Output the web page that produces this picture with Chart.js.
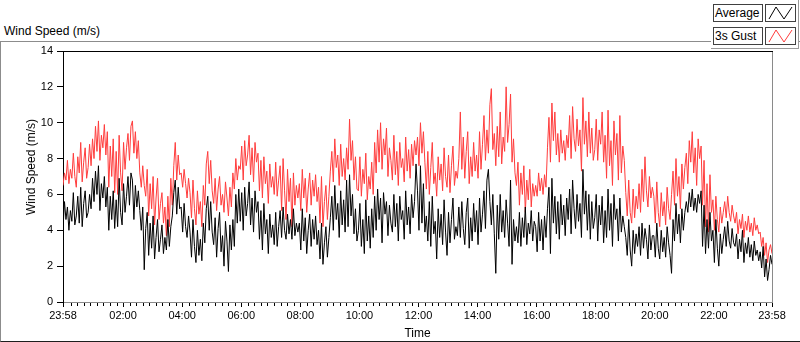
<!DOCTYPE html>
<html>
<head>
<meta charset="utf-8">
<script src="https://cdn.jsdelivr.net/npm/chart.js@4.4.1/dist/chart.umd.min.js"></script>
<style>
  html, body { margin: 0; padding: 0; background: #fff; }
  #wrap { position: relative; width: 800px; height: 342px; overflow: hidden; font-family: "Liberation Sans", Arial, sans-serif; color: #000; }
  #frame { position: absolute; left: 0; top: 41px; width: 799px; height: 299px; border-left: 1px solid #8c8c8c; border-top: 1px solid #8c8c8c; border-bottom: 1px solid #1e1e1e; }
  #chartTitle { position: absolute; left: 4px; top: 23px; font-size: 12px; line-height: 16px; }
  #yTitle { position: absolute; left: 31px; top: 167px; font-size: 12px; line-height: 14px; white-space: nowrap; transform: translate(-50%, -50%) rotate(-90deg); z-index: 2; }
  #legend { position: absolute; left: 711px; top: 0; width: 87px; height: 48px; background: #fff; border-right: 1px solid #9a9a9a; border-bottom: 1px solid #9a9a9a; z-index: 2; }
  .lbl { position: absolute; left: 2px; width: 47px; height: 16px; border: 1px solid #404040; font-size: 12px; line-height: 16px; padding-left: 1px; white-space: nowrap; overflow: hidden; }
  .ico { position: absolute; left: 54px; width: 29px; height: 16px; border: 1px solid #404040; }
  canvas { position: absolute; left: 0; top: 0; z-index: 1; }
</style>
</head>
<body>
<div id="wrap">
  <div id="frame"></div>
  <div id="chartTitle">Wind Speed (m/s)</div>
  <div id="yTitle">Wind Speed (m/s)</div>
  <div id="legend">
    <div class="lbl" style="top:4px">Average</div>
    <div class="ico" style="top:4px"><svg width="29" height="16"><polyline points="3,14 10,2 18,14 26,2" fill="none" stroke="#000" stroke-width="1"/></svg></div>
    <div class="lbl" style="top:27px">3s Gust</div>
    <div class="ico" style="top:27px"><svg width="29" height="16"><polyline points="3,14 10,2 18,14 26,2" fill="none" stroke="#ff3c3c" stroke-width="1"/></svg></div>
  </div>
  <canvas id="chart" width="800" height="342"></canvas>
</div>
<script>
// one sample every 3 minutes, starting 23:58 (one row = 2 hours)
const sampleStep = 3;

const averageSpeed = [
  4.1, 5.6, 4.6, 5.3, 4.0, 5.1, 4.5, 6.1, 4.3, 4.8, 5.9, 4.4, 6.4, 4.2, 5.5, 6.2, 4.7, 5.0, 6.0, 5.2, 6.9, 5.6, 7.3, 6.0, 7.6, 5.1, 6.6, 5.8, 7.0, 5.3, 6.4, 4.0, 5.9, 4.6, 6.2, 4.1, 5.7, 4.2, 6.9, 5.0,
  4.3, 6.6, 5.0, 5.9, 7.0, 5.4, 7.2, 6.8, 4.6, 6.5, 5.3, 6.2, 5.1, 4.0, 5.3, 1.8, 4.1, 5.0, 2.6, 4.4, 3.0, 4.8, 2.4, 3.6, 4.6, 2.8, 3.5, 4.3, 2.7, 3.6, 2.9, 4.6, 3.1, 4.2, 4.8, 6.1, 6.8, 4.9, 6.4, 5.2,
  5.3, 3.9, 5.5, 4.2, 3.6, 4.8, 3.9, 2.5, 4.6, 3.1, 2.2, 4.0, 2.6, 3.5, 2.3, 4.4, 3.3, 5.2, 5.9, 4.0, 5.6, 3.9, 3.2, 4.7, 2.5, 4.1, 5.0, 2.8, 3.7, 2.0, 4.5, 3.4, 1.7, 4.3, 2.9, 4.6, 3.1, 6.0, 4.4, 6.3,
  4.5, 6.1, 4.0, 6.4, 4.8, 5.5, 6.7, 4.3, 5.8, 3.9, 6.2, 5.0, 5.6, 3.5, 5.1, 2.9, 5.5, 3.8, 4.6, 2.7, 4.9, 3.6, 4.3, 3.2, 5.0, 3.1, 4.2, 5.1, 3.6, 5.3, 4.0, 3.5, 4.9, 3.8, 4.6, 3.5, 5.2, 3.7, 4.4, 3.9,
  4.4, 2.9, 5.2, 3.4, 4.7, 2.7, 4.0, 4.9, 3.1, 4.6, 3.5, 4.8, 3.2, 4.0, 2.4, 4.4, 2.1, 3.3, 4.2, 2.5, 3.6, 4.7, 5.9, 4.0, 6.5, 4.6, 5.5, 3.6, 6.2, 4.3, 5.7, 3.9, 6.8, 4.2, 7.1, 4.8, 6.0, 3.8, 5.2, 3.4,
  4.0, 5.5, 3.1, 4.6, 2.7, 5.7, 3.4, 4.8, 3.0, 5.2, 3.6, 5.9, 4.0, 6.3, 4.6, 5.8, 3.3, 6.1, 4.9, 5.6, 3.7, 5.4, 4.4, 3.9, 6.0, 4.2, 5.5, 3.4, 5.9, 4.6, 5.1, 3.5, 6.2, 4.3, 5.3, 3.8, 6.0, 4.7, 5.6, 7.7,
  6.2, 4.0, 7.6, 4.4, 6.6, 3.9, 4.8, 3.4, 5.6, 3.1, 5.9, 3.8, 4.5, 2.4, 5.2, 3.6, 4.9, 3.2, 5.7, 3.9, 2.6, 5.0, 3.3, 4.6, 5.8, 3.5, 4.2, 3.7, 5.3, 3.6, 5.6, 4.1, 3.2, 5.0, 5.8, 3.0, 4.7, 3.4, 5.5, 3.9,
  5.1, 3.2, 5.8, 3.9, 4.9, 6.2, 4.1, 6.8, 7.4, 5.6, 4.3, 6.0, 3.8, 1.6, 5.4, 3.5, 6.0, 3.9, 5.1, 3.6, 5.7, 4.4, 3.1, 6.8, 2.1, 4.6, 3.4, 4.2, 3.3, 5.0, 3.1, 4.7, 3.6, 5.3, 3.2, 4.4, 3.8, 5.1, 3.4, 4.5,
  4.2, 2.8, 5.0, 3.4, 4.6, 2.9, 4.8, 3.6, 5.2, 6.4, 2.7, 6.9, 4.4, 5.9, 3.8, 5.6, 3.5, 6.0, 4.3, 5.4, 3.7, 5.8, 4.6, 6.3, 3.8, 6.8, 5.2, 4.1, 6.0, 4.5, 5.5, 3.6, 7.4, 4.9, 6.2, 4.0, 6.0, 3.5, 5.6, 4.1,
  4.7, 6.0, 3.4, 5.4, 4.3, 5.9, 3.3, 5.1, 3.6, 6.3, 4.0, 5.5, 3.1, 6.0, 4.6, 5.2, 3.4, 5.8, 3.9, 4.8, 4.2, 3.6, 2.6, 4.6, 2.9, 2.0, 4.0, 2.7, 3.8, 3.1, 4.2, 2.6, 4.4, 3.0, 4.1, 3.5, 2.4, 4.3, 2.9, 3.7,
  3.7, 2.5, 4.4, 3.0, 2.4, 4.0, 2.8, 3.6, 2.5, 4.2, 3.3, 2.6, 1.6, 4.6, 3.4, 5.5, 3.8, 4.9, 3.3, 5.2, 4.0, 5.0, 5.6, 5.0, 6.1, 5.3, 6.3, 5.1, 5.8, 5.0, 6.0, 5.5, 6.2, 3.1, 5.4, 2.7, 4.6, 3.0, 5.0, 3.4,
  4.0, 2.2, 4.6, 3.0, 2.0, 3.8, 2.7, 3.5, 4.2, 3.1, 4.5, 3.4, 3.0, 4.1, 3.3, 3.1, 3.8, 2.4, 3.5, 2.8, 4.0, 2.2, 3.3, 2.7, 3.6, 2.5, 3.2, 2.3, 3.4, 2.6, 2.9, 2.3, 2.8, 1.9, 3.1, 1.4, 2.4, 1.2, 1.8, 2.6, 2.1
];

const gustSpeed = [
  6.5, 7.2, 6.8, 7.9, 6.6, 7.4, 6.9, 8.3, 7.0, 6.4, 8.1, 7.2, 8.9, 6.7, 7.8, 8.6, 6.9, 7.5, 8.8, 7.6, 9.1, 8.0, 9.8, 8.4, 10.1, 7.9, 9.3, 8.6, 9.9, 8.2, 9.5, 6.4, 8.7, 7.0, 9.1, 6.1, 8.4, 6.0, 9.3, 7.2,
  6.2, 8.9, 7.4, 8.6, 9.4, 7.9, 9.8, 10.1, 8.3, 9.5, 8.0, 9.0, 7.2, 6.4, 7.6, 6.5, 5.9, 7.4, 4.8, 6.6, 5.2, 7.0, 4.3, 5.8, 6.9, 4.6, 5.5, 6.1, 4.4, 5.3, 3.7, 5.9, 4.2, 6.9, 5.4, 7.6, 8.9, 6.8, 8.2, 7.1,
  7.2, 6.4, 7.4, 6.6, 5.8, 6.9, 6.1, 4.7, 6.8, 5.2, 4.3, 6.2, 4.9, 5.6, 4.2, 6.5, 5.4, 7.7, 8.4, 6.6, 7.9, 6.2, 5.5, 6.9, 5.1, 6.3, 7.0, 5.4, 6.0, 5.0, 6.7, 5.8, 4.8, 6.4, 5.3, 7.2, 6.3, 8.0, 6.8, 7.6,
  7.4, 8.7, 6.8, 9.0, 7.6, 8.2, 9.3, 7.1, 8.6, 6.7, 8.9, 7.8, 8.3, 6.2, 7.9, 5.8, 8.1, 6.6, 7.3, 5.5, 7.7, 6.4, 7.0, 6.0, 7.8, 5.9, 6.8, 7.6, 5.1, 8.0, 6.2, 4.6, 7.4, 5.6, 6.9, 4.2, 7.2, 5.4, 6.5, 5.8,
  6.6, 5.1, 7.4, 5.8, 6.9, 5.0, 6.3, 7.2, 5.4, 6.8, 5.9, 7.1, 5.6, 6.4, 4.4, 7.0, 4.2, 5.6, 6.5, 4.6, 5.9, 7.3, 8.4, 6.7, 9.1, 7.5, 8.2, 6.5, 8.8, 7.0, 8.0, 6.8, 8.6, 7.4, 10.2, 7.9, 9.0, 6.8, 8.1, 6.3,
  6.2, 8.1, 5.9, 7.4, 6.6, 8.3, 5.7, 7.0, 6.3, 7.8, 6.0, 8.9, 7.2, 9.6, 7.8, 10.0, 7.4, 9.1, 8.2, 9.7, 7.0, 8.6, 7.9, 6.8, 9.3, 7.1, 8.4, 6.5, 8.9, 7.5, 8.0, 6.7, 9.2, 7.3, 8.5, 6.9, 8.8, 7.6, 9.0, 8.2,
  9.2, 7.6, 10.0, 8.3, 9.5, 7.8, 6.3, 8.4, 6.0, 7.5, 8.9, 6.6, 7.2, 5.9, 8.1, 6.8, 7.7, 6.2, 8.6, 7.0, 6.4, 8.2, 6.1, 7.6, 8.7, 6.5, 7.3, 6.9, 8.0, 10.6, 7.4, 9.2, 6.9, 8.4, 9.5, 6.6, 8.1, 7.0, 8.9, 7.3,
  8.2, 6.9, 9.5, 7.4, 8.8, 10.4, 7.9, 9.6, 8.3, 11.0, 11.9, 8.5, 9.4, 7.6, 9.8, 8.1, 10.6, 7.7, 9.2, 8.4, 12.0, 8.9, 9.9, 11.6, 7.8, 9.1, 7.2, 6.5, 7.8, 5.4, 7.2, 6.0, 7.6, 5.0, 6.8, 5.7, 7.4, 5.3, 6.6, 5.9,
  6.5, 5.9, 7.2, 6.2, 6.9, 6.0, 7.1, 6.4, 8.6, 10.3, 7.8, 11.1, 9.0, 10.6, 8.2, 9.4, 7.8, 9.6, 8.3, 9.0, 7.9, 9.3, 8.6, 10.4, 8.0, 10.9, 9.1, 8.4, 10.2, 8.7, 9.6, 7.3, 11.4, 8.8, 10.1, 8.1, 10.6, 8.3, 9.7, 7.9,
  8.5, 10.2, 7.9, 9.6, 8.8, 10.6, 7.8, 9.3, 6.9, 10.7, 7.6, 9.0, 6.5, 10.1, 8.2, 9.4, 6.8, 10.4, 7.2, 8.7, 7.9, 6.1, 4.8, 6.8, 5.0, 4.4, 6.3, 4.7, 5.9, 5.2, 6.6, 5.0, 7.4, 5.6, 8.1, 6.2, 5.3, 7.0, 5.8, 6.4,
  5.9, 4.4, 6.7, 5.0, 4.2, 6.1, 4.8, 5.6, 4.3, 6.4, 5.2, 4.6, 6.0, 7.3, 5.4, 8.0, 5.9, 7.0, 5.2, 7.7, 6.3, 7.5, 8.3, 6.6, 9.0, 7.8, 9.5, 7.2, 8.6, 6.5, 9.1, 8.0, 8.7, 5.4, 7.9, 4.2, 6.6, 3.9, 7.1, 5.0,
  5.7, 4.0, 5.9, 4.6, 3.9, 5.3, 4.4, 5.0, 5.6, 4.7, 5.9, 5.0, 4.5, 5.4, 4.8, 4.4, 5.0, 3.8, 4.6, 4.1, 4.9, 3.6, 4.5, 4.0, 4.8, 3.9, 4.4, 3.7, 4.7, 4.0, 4.3, 3.8, 3.9, 3.1, 3.6, 2.6, 3.3, 2.2, 2.9, 3.2, 2.7
];

// minutes after 23:58 of the labelled ticks
const tickMinutes = [0, 122, 242, 362, 482, 602, 722, 842, 962, 1082, 1202, 1322, 1440];
const tickLabels = ['23:58', '02:00', '04:00', '06:00', '08:00', '10:00', '12:00', '14:00', '16:00', '18:00', '20:00', '22:00', '23:58'];

// 8 minor ticks between each pair of 2-hour ticks
const minorMinutes = [];
for (let h = 0; h < 12; h++) {
  for (let k = 1; k <= 8; k++) minorMinutes.push(2 + h * 120 + k * 120 / 9);
}

const toPoints = arr => arr.map((v, i) => ({ x: i * sampleStep, y: v }));

const plotFrame = {
  id: 'plotFrame',
  afterDraw(chart) {
    const { ctx, chartArea: a, scales: { x } } = chart;
    ctx.save();
    ctx.lineWidth = 1;
    ctx.strokeStyle = '#000';
    ctx.beginPath();
    ctx.moveTo(a.left, a.top + 0.5);
    ctx.lineTo(a.right + 1, a.top + 0.5);
    ctx.stroke();
    ctx.strokeStyle = '#8a8a8a';
    ctx.beginPath();
    ctx.moveTo(a.right + 0.5, a.top + 1);
    ctx.lineTo(a.right + 0.5, a.bottom);
    ctx.stroke();
    ctx.strokeStyle = '#000';
    ctx.beginPath();
    minorMinutes.forEach(m => {
      const px = Math.round(x.getPixelForValue(m)) + 0.5;
      ctx.moveTo(px, a.bottom + 1);
      ctx.lineTo(px, a.bottom + 4);
    });
    ctx.stroke();
    ctx.restore();
  }
};

new Chart(document.getElementById('chart'), {
  type: 'line',
  data: {
    datasets: [
      { label: 'Average', data: toPoints(averageSpeed), borderColor: '#000', borderWidth: 1, pointRadius: 0, tension: 0, fill: false },
      { label: '3s Gust', data: toPoints(gustSpeed), borderColor: '#ff3c3c', borderWidth: 1, pointRadius: 0, tension: 0, fill: false }
    ]
  },
  options: {
    responsive: false,
    animation: false,
    layout: { padding: { top: 51, right: 28, bottom: 0, left: 0 } },
    plugins: { legend: { display: false }, tooltip: { enabled: false } },
    scales: {
      x: {
        type: 'linear',
        min: 0,
        max: 1440,
        afterBuildTicks: s => { s.ticks = tickMinutes.map(v => ({ value: v })); },
        afterFit: s => { s.height = 40; },
        ticks: {
          autoSkip: false,
          maxRotation: 0,
          padding: 2,
          color: '#000',
          font: { family: 'Liberation Sans', size: 11 },
          callback: (v, i) => tickLabels[i]
        },
        grid: { drawOnChartArea: false, tickLength: 5, tickColor: '#000' },
        border: { color: '#8a8a8a' },
        title: { display: true, text: 'Time', color: '#000', font: { family: 'Liberation Sans', size: 12 }, padding: { top: 0, bottom: 1 } }
      },
      y: {
        min: 0,
        max: 14,
        afterFit: s => { s.width = 63; },
        ticks: { stepSize: 2, padding: 4, color: '#000', font: { family: 'Liberation Sans', size: 11 } },
        grid: { drawOnChartArea: false, tickLength: 6, tickColor: '#000' },
        border: { color: '#000' }
      }
    }
  },
  plugins: [plotFrame]
});
</script>
</body>
</html>
